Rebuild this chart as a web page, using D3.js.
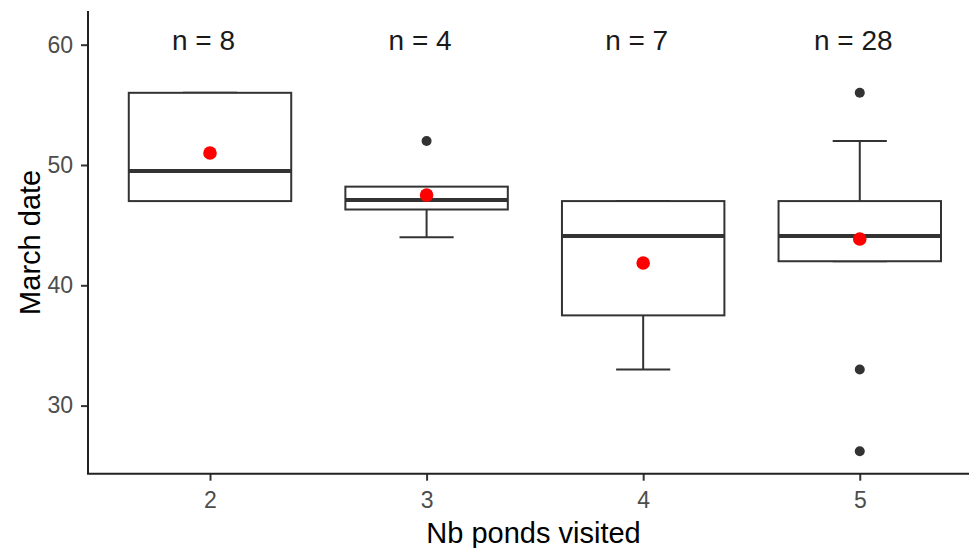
<!DOCTYPE html>
<html>
<head>
<meta charset="utf-8">
<script src="https://cdn.jsdelivr.net/npm/d3@7"></script>
<style>
  html, body { margin: 0; padding: 0; background: #ffffff; }
  svg { display: block; font-family: "Liberation Sans", Arial, sans-serif; }
</style>
</head>
<body>
<svg id="chart" width="969" height="548"></svg>
<script>
// Number of ponds visited (x categories) and the March arrival date summaries
const categories = ["2", "3", "4", "5"];
const sampleSizes = [8, 4, 7, 28];
const lowerQuartile = [47, 46.3, 37.5, 42];
const medianDate = [49.5, 47.1, 44.1, 44.1];
const upperQuartile = [56, 48.2, 47, 47];
const whiskerLow = [47, 44, 33, 42];
const whiskerHigh = [56, 47, 47, 52];
const meanDate = [51, 47.5, 41.85, 43.85];
const outliers = [[], [52], [], [56, 33, 26.2]];
const yTicks = [30, 40, 50, 60];

const xTitle = "Nb ponds visited";
const yTitle = "March date";

// Panel geometry
const panel = { left: 88, right: 979, top: 11, bottom: 473.7 };
const ink = "#333333";

const svg = d3.select("#chart");

const x = d3.scaleLinear()
  .domain([0.4367, 4.5505])
  .range([panel.left, panel.right]);
const xPos = i => x(i + 1);
const unit = x(2) - x(1);

const y = d3.scaleLinear()
  .domain([24.34, 62.8])
  .range([panel.bottom, panel.top]);

const boxHalf = unit * 0.75 / 2;
const capHalf = unit * 0.25 / 2;

const data = categories.map((c, i) => ({
  cat: c, i,
  n: sampleSizes[i],
  q1: lowerQuartile[i], med: medianDate[i], q3: upperQuartile[i],
  lo: whiskerLow[i], hi: whiskerHigh[i],
  mean: meanDate[i], out: outliers[i]
}));

const g = svg.append("g");

// Error-bar caps
g.selectAll("line.cap")
  .data(data.flatMap(d => [d.lo, d.hi].map(v => ({ i: d.i, v }))))
  .join("line")
  .attr("class", "cap")
  .attr("x1", d => xPos(d.i) - capHalf)
  .attr("x2", d => xPos(d.i) + capHalf)
  .attr("y1", d => y(d.v))
  .attr("y2", d => y(d.v))
  .attr("stroke", ink)
  .attr("stroke-width", 2);

// Whiskers
g.selectAll("line.whisker")
  .data(data.flatMap(d => [
    { i: d.i, a: d.q3, b: d.hi },
    { i: d.i, a: d.q1, b: d.lo }
  ]))
  .join("line")
  .attr("class", "whisker")
  .attr("x1", d => xPos(d.i))
  .attr("x2", d => xPos(d.i))
  .attr("y1", d => y(d.a))
  .attr("y2", d => y(d.b))
  .attr("stroke", ink)
  .attr("stroke-width", 2);

// Boxes
g.selectAll("rect.box")
  .data(data)
  .join("rect")
  .attr("class", "box")
  .attr("x", d => xPos(d.i) - boxHalf)
  .attr("width", boxHalf * 2)
  .attr("y", d => y(d.q3))
  .attr("height", d => y(d.q1) - y(d.q3))
  .attr("fill", "#ffffff")
  .attr("stroke", ink)
  .attr("stroke-width", 2);

// Medians
g.selectAll("line.median")
  .data(data)
  .join("line")
  .attr("class", "median")
  .attr("x1", d => xPos(d.i) - boxHalf)
  .attr("x2", d => xPos(d.i) + boxHalf)
  .attr("y1", d => y(d.med))
  .attr("y2", d => y(d.med))
  .attr("stroke", ink)
  .attr("stroke-width", 4);

// Outliers
g.selectAll("circle.outlier")
  .data(data.flatMap(d => d.out.map(v => ({ i: d.i, v }))))
  .join("circle")
  .attr("class", "outlier")
  .attr("cx", d => xPos(d.i))
  .attr("cy", d => y(d.v))
  .attr("r", 5)
  .attr("fill", ink);

// Means
g.selectAll("circle.mean")
  .data(data)
  .join("circle")
  .attr("class", "mean")
  .attr("cx", d => xPos(d.i))
  .attr("cy", d => y(d.mean))
  .attr("r", 6.8)
  .attr("fill", "#ff0000");

// Sample-size labels
g.selectAll("text.nlab")
  .data(data)
  .join("text")
  .attr("class", "nlab")
  .attr("x", d => xPos(d.i))
  .attr("dx", -6.5)
  .attr("y", 49.5)
  .attr("text-anchor", "middle")
  .attr("font-size", 28)
  .attr("fill", "#1a1a1a")
  .text(d => "n = " + d.n);

// Y axis
const yAxis = svg.append("g")
  .attr("transform", `translate(${panel.left},0)`)
  .call(d3.axisLeft(y).tickValues(yTicks).tickSize(7).tickPadding(8).tickSizeOuter(0));
yAxis.select(".domain").remove();
yAxis.selectAll(".tick line").attr("stroke", ink).attr("stroke-width", 2);
yAxis.selectAll(".tick text")
  .attr("font-size", 23)
  .attr("font-family", "Liberation Sans, Arial, sans-serif")
  .attr("fill", "#4d4d4d");

// X axis
const xAxis = svg.append("g")
  .attr("transform", `translate(0,${panel.bottom})`)
  .call(d3.axisBottom(x).tickValues([1, 2, 3, 4]).tickFormat(v => categories[v - 1])
    .tickSize(7).tickPadding(11).tickSizeOuter(0));
xAxis.select(".domain").remove();
xAxis.selectAll(".tick line").attr("stroke", ink).attr("stroke-width", 2);
xAxis.selectAll(".tick text")
  .attr("font-size", 23)
  .attr("font-family", "Liberation Sans, Arial, sans-serif")
  .attr("fill", "#4d4d4d");

// Axis lines
svg.append("path")
  .attr("d", `M${panel.left},${panel.top}V${panel.bottom}H${panel.right}`)
  .attr("fill", "none")
  .attr("stroke", "#222222")
  .attr("stroke-width", 2);

// Axis titles
svg.append("text")
  .attr("x", (panel.left + panel.right) / 2)
  .attr("y", 543)
  .attr("text-anchor", "middle")
  .attr("font-size", 29)
  .attr("fill", "#000000")
  .text(xTitle);

svg.append("text")
  .attr("transform", `translate(40,${(panel.top + panel.bottom) / 2}) rotate(-90)`)
  .attr("text-anchor", "middle")
  .attr("font-size", 29)
  .attr("fill", "#000000")
  .text(yTitle);
</script>
</body>
</html>
